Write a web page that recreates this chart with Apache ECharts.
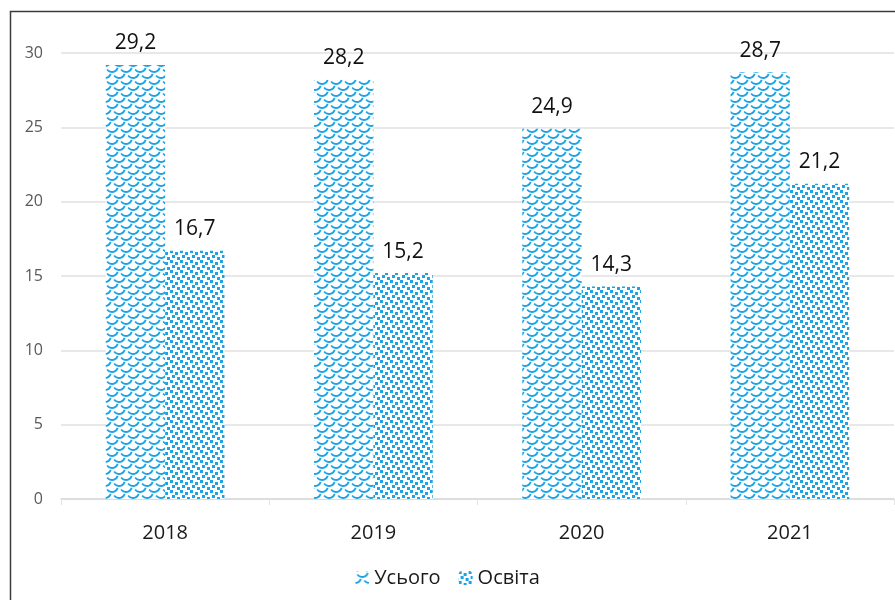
<!DOCTYPE html>
<html>
<head>
<meta charset="utf-8">
<script src="https://cdn.jsdelivr.net/npm/echarts@6/dist/echarts.min.js"></script>
<style>
  html, body { margin: 0; padding: 0; background: #fff; }
  #chart { width: 895px; height: 600px; }
</style>
</head>
<body>
<div id="chart"></div>
<script>
const years = ['2018', '2019', '2020', '2021']
const totalValues = [29.2, 28.2, 24.9, 28.7]
const eduValues = [16.7, 15.2, 14.3, 21.2]
const yTicks = [0, 5, 10, 15, 20, 25, 30]

const blue = '#1ba3e6'

// fish-scale pattern for "Усього"
function scalePattern () {
  const c = document.createElement('canvas')
  c.width = 14
  c.height = 12
  const ctx = c.getContext('2d')
  ctx.fillStyle = '#fff'
  ctx.fillRect(0, 0, 14, 12)
  ctx.strokeStyle = blue
  ctx.lineWidth = 1.8
  const arcs = [[7, 0], [0, 6], [14, 6], [7, 12], [0, -6], [14, -6]]
  arcs.forEach(([x, y]) => {
    ctx.beginPath()
    ctx.arc(x, y, 6, 0.1 * Math.PI, 0.8 * Math.PI)
    ctx.stroke()
  })
  return c
}

// dotted pattern for "Освіта"
function dotPattern () {
  const c = document.createElement('canvas')
  c.width = 10
  c.height = 10
  const ctx = c.getContext('2d')
  ctx.fillStyle = '#fff'
  ctx.fillRect(0, 0, 10, 10)
  ctx.fillStyle = blue
  const dots = [[0, 0], [5, 2], [2, 5], [7, 7]]
  dots.forEach(([x, y]) => ctx.fillRect(x, y, 3, 3))
  return c
}

const fmt = p => String(p.value).replace('.', ',')

const chart = echarts.init(document.getElementById('chart'))
chart.setOption({
  animation: false,
  textStyle: { fontFamily: 'Open Sans, Noto Sans, sans-serif' },
  graphic: [{
    type: 'rect',
    left: 8,
    top: 9,
    shape: { width: 1000, height: 1000 },
    style: { fill: 'none', stroke: '#3c3c3c', lineWidth: 1.5 },
    z: 100
  }],
  grid: { left: 61, right: 1, top: 53, bottom: 101 },
  legend: {
    bottom: 7,
    left: 'center',
    itemWidth: 14,
    itemHeight: 14,
    itemGap: 18,
    textStyle: { fontSize: 20, color: '#1a1a1a' },
    data: ['Усього', 'Освіта']
  },
  xAxis: {
    type: 'category',
    data: years,
    axisLine: { lineStyle: { color: '#d9d9d9', width: 1.5 } },
    axisTick: { show: true, length: 6, lineStyle: { color: '#e3e3e3' } },
    axisLabel: { fontSize: 20, color: '#1a1a1a', margin: 24 }
  },
  yAxis: {
    type: 'value',
    min: 0,
    max: 30,
    interval: 5,
    axisLine: { show: false },
    axisTick: { show: false },
    axisLabel: {
      fontSize: 16,
      color: '#595959',
      margin: 18,
      formatter: v => yTicks.includes(v) ? String(v) : ''
    },
    splitLine: { lineStyle: { color: '#e0e0e0', width: 1.5 } }
  },
  series: [
    {
      name: 'Усього',
      type: 'bar',
      data: totalValues,
      barGap: 0,
      barCategoryGap: '43%',
      itemStyle: { color: { image: scalePattern(), repeat: 'repeat' } },
      label: { show: true, position: 'top', distance: 11, fontSize: 21, color: '#111', formatter: fmt }
    },
    {
      name: 'Освіта',
      type: 'bar',
      data: eduValues,
      itemStyle: { color: { image: dotPattern(), repeat: 'repeat' } },
      label: { show: true, position: 'top', distance: 11, fontSize: 21, color: '#111', formatter: fmt }
    }
  ]
})
</script>
</body>
</html>
